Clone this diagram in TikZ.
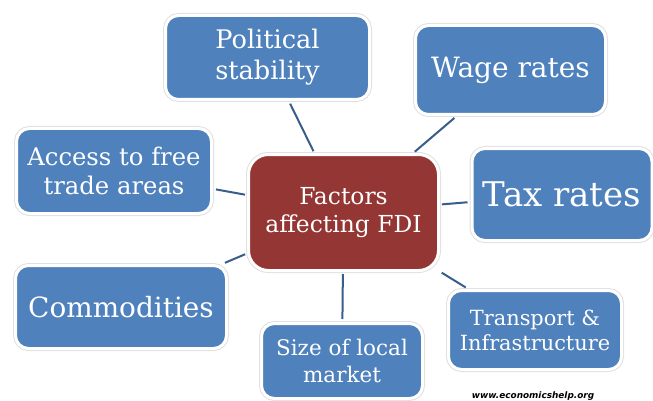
\documentclass[tikz,border=0pt]{standalone}
\usepackage{fontspec}
\setmainfont{DejaVu Serif}
\newfontfamily\creditfont{DejaVu Sans}
\definecolor{fdiblue}{RGB}{79,129,189}
\definecolor{fdired}{RGB}{148,54,52}
\definecolor{linkblue}{RGB}{56,93,138}
\newcommand{\boxfont}[2]{\fontsize{#1}{#2}\selectfont}
\tikzset{
    factor/.style={draw=white, line width=3pt, fill=fdiblue, text=white, align=center,
        rounded corners=13pt, inner sep=0pt,
        preaction={draw=black!12, line width=5pt}},
    core/.style={factor, fill=fdired, rounded corners=20pt},
    link/.style={draw=linkblue, line width=2pt, shorten <=2pt, shorten >=3pt},
    credit/.style={font=\creditfont\bfseries\itshape\fontsize{8.9}{10}\selectfont, text=black}
}

\begin{document}
\begin{tikzpicture}[x=1pt, y=-1pt]
    \useasboundingbox (0,0) rectangle (653,401);
    \node[core, minimum width=190pt, minimum height=116pt, font=\boxfont{23.4}{28}] (fdi) at (343.5,212.5) {Factors\\affecting FDI};
    \node[factor, minimum width=204pt, minimum height=84pt, font=\boxfont{25.6}{31}] (political) at (267.5,57.5) {Political\\stability};
    \node[factor, minimum width=190pt, minimum height=89pt, font=\boxfont{28}{33}] (wage) at (510.5,70) {Wage rates};
    \node[factor, minimum width=180pt, minimum height=92pt, font=\boxfont{34}{40}] (tax) at (562,194.5) {Tax rates};
    \node[factor, minimum width=173pt, minimum height=79pt, font=\boxfont{20.9}{25}] (transport) at (535,330) {Transport \&\\Infrastructure};
    \node[factor, minimum width=161pt, minimum height=75pt, font=\boxfont{21.5}{27}] (size) at (342,361) {Size of local\\market};
    \node[factor, minimum width=211pt, minimum height=83pt, font=\boxfont{27.9}{33}] (commodities) at (121,307) {Commodities};
    \node[factor, minimum width=195pt, minimum height=85pt, font=\boxfont{24.3}{29}] (access) at (114,171) {Access to free\\trade areas};

    \foreach \f in {political,wage,tax,transport,size,commodities,access}
        \draw[link] (fdi) -- (\f);

    \node[credit] (site) at (533,396) {www.economicshelp.org};
\end{tikzpicture}
\end{document}
